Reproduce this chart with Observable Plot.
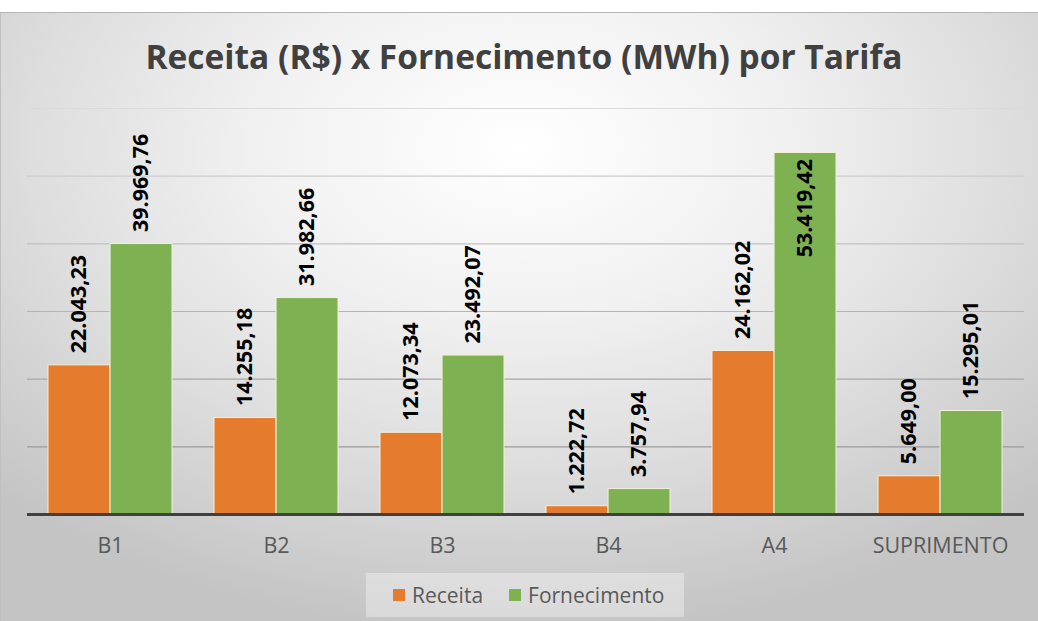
<!DOCTYPE html>
<html>
<head>
<meta charset="utf-8">
<script src="https://cdn.jsdelivr.net/npm/d3@7"></script>
<script src="https://cdn.jsdelivr.net/npm/@observablehq/plot@0.6"></script>
<style>
  html, body { margin: 0; padding: 0; background: #ffffff; }
  #wrap {
    position: absolute; left: 0; top: 12px; width: 1038px; height: 609px;
    box-sizing: border-box; border-top: 1px solid #b5b5b5; border-left: 1px solid #c0c0c0;
    background: radial-gradient(ellipse 72% 80% at 50% 22%, #ffffff 0%, #f1f1f1 35%, #dedede 65%, #c4c4c4 100%);
    font-family: "Open Sans", sans-serif; overflow: hidden;
  }
  #title {
    position: absolute; left: 0; top: 27px; width: 1046px; text-align: center;
    font-size: 33.5px; line-height: 33.5px; font-weight: bold; color: #404040;
  }
  #chart { position: absolute; left: -1px; top: 83px; }
  #legend {
    position: absolute; left: 365px; top: 560px; width: 318px; height: 44px;
    background: rgba(255,255,255,0.35); display: flex; align-items: center;
    box-sizing: border-box; padding-left: 27px; font-size: 21px; color: #595959;
  }
  .sw { width: 12px; height: 12px; margin-right: 7px; }
</style>
</head>
<body>
<div id="wrap">
  <div id="title">Receita (R$) x Fornecimento (MWh) por Tarifa</div>
  <div id="chart"></div>
  <div id="legend"></div>
</div>
<script>
const categories = ["B1", "B2", "B3", "B4", "A4", "SUPRIMENTO"];
const receita = [22043.23, 14255.18, 12073.34, 1222.72, 24162.02, 5649.00];
const fornecimento = [39969.76, 31982.66, 23492.07, 3757.94, 53419.42, 15295.01];
const seriesNames = ["Receita", "Fornecimento"];
const seriesColors = ["#E57B2D", "#7EB152"];
const yTicks = [10000, 20000, 30000, 40000, 50000, 60000];
const yMax = 60000;
const insideLabelFrom = 45000; // labels of taller bars sit inside the bar

const data = categories.map((c, i) => ({cat: c, receita: receita[i], fornecimento: fornecimento[i]}));
const fmt = d3.formatLocale({decimal: ",", thousands: ".", grouping: [3], currency: ["R$", ""]}).format(",.2f");

const W = 1038, ML = 27, MR = 14;
const pInner = 0.253, pOuter = pInner / 2;
const step = (W - ML - MR) / (categories.length - pInner + 2 * pOuter);
const half = step * (1 - pInner) / 2;
const gridShade = d3.interpolateRgb("#8e8e8e", "#dadada");

const labelStyle = {rotate: -90, fontWeight: "bold", fontSize: 21.5, fill: "#000000"};

const chart = Plot.plot({
  width: W, height: 462,
  marginLeft: ML, marginRight: MR, marginTop: 12, marginBottom: 44,
  style: {background: "transparent", fontFamily: "Open Sans, sans-serif", fontSize: "21.5px", color: "#595959", overflow: "visible"},
  x: {domain: categories, paddingInner: pInner, paddingOuter: pOuter, label: null, tickSize: 0, tickPadding: 23},
  y: {domain: [0, yMax], axis: null},
  marks: [
    Plot.ruleY(yTicks, {stroke: d => gridShade(d / yMax), strokeWidth: 1.2}),
    Plot.barY(data, {x: "cat", y: "receita", fill: seriesColors[0], stroke: "#f4efd8", strokeWidth: 1, insetRight: half}),
    Plot.barY(data, {x: "cat", y: "fornecimento", fill: seriesColors[1], stroke: "#f4efd8", strokeWidth: 1, insetLeft: half}),
    Plot.ruleY([0], {stroke: "#404040", strokeWidth: 3}),
    Plot.text(data, {x: "cat", y: "receita", text: d => fmt(d.receita), textAnchor: "start",
      dx: -half / 2, dy: -12, ...labelStyle}),
    Plot.text(data.filter(d => d.fornecimento < insideLabelFrom), {x: "cat", y: "fornecimento", text: d => fmt(d.fornecimento), textAnchor: "start",
      dx: half / 2, dy: -12, ...labelStyle}),
    Plot.text(data.filter(d => d.fornecimento >= insideLabelFrom), {x: "cat", y: "fornecimento", text: d => fmt(d.fornecimento), textAnchor: "end",
      dx: half / 2, dy: 6, ...labelStyle})
  ]
});
document.getElementById("chart").appendChild(chart);

const legend = document.getElementById("legend");
seriesNames.forEach((name, i) => {
  const sw = document.createElement("span");
  sw.className = "sw";
  sw.style.background = seriesColors[i];
  if (i > 0) sw.style.marginLeft = "26px";
  const t = document.createElement("span");
  t.textContent = name;
  legend.appendChild(sw);
  legend.appendChild(t);
});
</script>
</body>
</html>
